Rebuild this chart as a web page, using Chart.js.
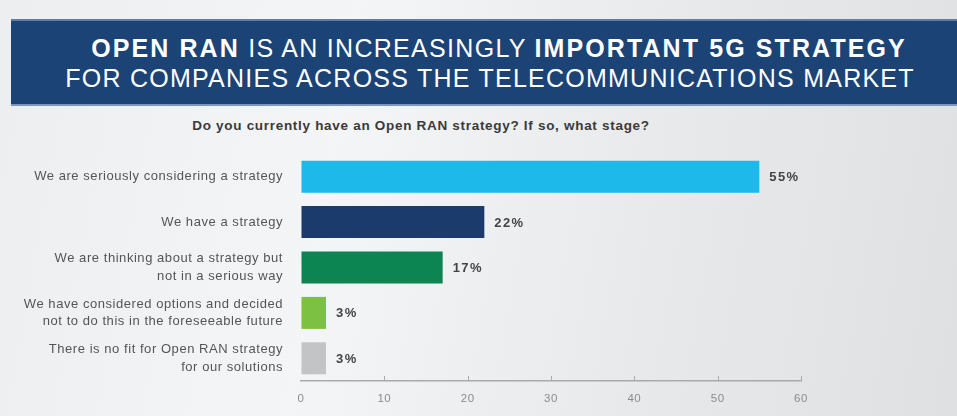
<!DOCTYPE html>
<html>
<head>
<meta charset="utf-8">
<script src="https://cdn.jsdelivr.net/npm/chart.js@4.4.1/dist/chart.umd.min.js"></script>
<style>
    html, body {
        margin: 0;
        padding: 0;
    }
    body {
        width: 957px;
        height: 416px;
        position: relative;
        overflow: hidden;
        background: linear-gradient(100deg, #eceef0 0%, #f4f5f6 35%, #e9eaec 65%, #dfe0e2 100%);
        font-family: "Liberation Sans", Arial, sans-serif;
    }
    #banner {
        position: absolute;
        left: 11px;
        top: 19px;
        width: 946px;
        height: 87px;
        background: #1c4376;
        border-top: 2px solid #5d7fa6;
        border-bottom: 2px solid #7e97b5;
        box-sizing: border-box;
        color: #fff;
        text-align: center;
    }
    #banner .l1 {
        position: absolute;
        left: 30px;
        right: 0;
        top: 12px;
        font-size: 25px;
        line-height: 30px;
        letter-spacing: 1.3px;
    }
    #banner .l1 b {
        font-weight: 900;
        letter-spacing: 2.1px;
    }
    #banner .l2 {
        position: absolute;
        left: 12px;
        right: 0;
        top: 42px;
        font-size: 25px;
        line-height: 30px;
        letter-spacing: 1.25px;
    }
    #question {
        position: absolute;
        left: 0;
        width: 842px;
        top: 118px;
        text-align: center;
        font-size: 13.5px;
        font-weight: bold;
        letter-spacing: 0.7px;
        color: #3a3a3a;
    }
    #wrap {
        position: absolute;
        left: 0;
        top: 0;
        width: 957px;
        height: 416px;
    }
</style>
</head>
<body>
<div id="banner">
    <div class="l1"><b>OPEN RAN</b> IS AN INCREASINGLY <b>IMPORTANT 5G STRATEGY</b></div>
    <div class="l2">FOR COMPANIES ACROSS THE TELECOMMUNICATIONS MARKET</div>
</div>
<div id="question">Do you currently have an Open RAN strategy? If so, what stage?</div>
<div id="wrap"><canvas id="bar-chart"></canvas></div>

<script>
// chart data
const answers = [
    ['We are seriously considering a strategy'],
    ['We have a strategy'],
    ['We are thinking about a strategy but', 'not in a serious way'],
    ['We have considered options and decided', 'not to do this in the foreseeable future'],
    ['There is no fit for Open RAN strategy', 'for our solutions']
];
const shares = [55, 22, 17, 3, 3];
const bar_colors = ['#1cb9ea', '#1b3b6c', '#0c8552', '#7cc142', '#c3c4c6'];
const x_ticks = [0, 10, 20, 30, 40, 50, 60];

// the source text is set wide, so open up the canvas text a bit
const wideText = {
    id: 'wideText',
    beforeDraw(chart) {
        chart.ctx.letterSpacing = '0.55px';
    }
};

// percent labels at the end of each bar
const valueLabels = {
    id: 'valueLabels',
    afterDatasetsDraw(chart) {
        const ctx = chart.ctx;
        const meta = chart.getDatasetMeta(0);
        ctx.save();
        ctx.letterSpacing = '1.4px';
        ctx.font = 'bold 13px "Liberation Sans", Arial, sans-serif';
        ctx.fillStyle = '#444';
        ctx.textAlign = 'left';
        ctx.textBaseline = 'middle';
        meta.data.forEach(function(bar, i) {
            ctx.fillText(shares[i] + '%', bar.x + 10, bar.y + 1);
        });
        ctx.restore();
    }
};

// small tick marks pointing up from the x axis
const upTicks = {
    id: 'upTicks',
    afterDraw(chart) {
        const ctx = chart.ctx;
        const xs = chart.scales.x;
        const bottom = chart.chartArea.bottom;
        ctx.save();
        ctx.strokeStyle = '#a9aaac';
        ctx.lineWidth = 1;
        x_ticks.forEach(function(v) {
            if (v === 0) return;
            const px = Math.round(xs.getPixelForValue(v)) + 0.5;
            ctx.beginPath();
            ctx.moveTo(px, bottom - 5);
            ctx.lineTo(px, bottom);
            ctx.stroke();
        });
        ctx.restore();
    }
};

var chrt = document.getElementById('bar-chart').getContext('2d');
var chartId = new Chart(chrt, {
    type: 'bar',
    data: {
        labels: answers,
        datasets: [{
            data: shares,
            backgroundColor: bar_colors,
            borderWidth: 0,
            barPercentage: 0.705,
            categoryPercentage: 1
        }]
    },
    options: {
        indexAxis: 'y',
        responsive: true,
        maintainAspectRatio: false,
        animation: false,
        layout: {
            padding: { top: 154, right: 156, left: 0, bottom: 0 }
        },
        plugins: {
            legend: { display: false },
            tooltip: { enabled: false }
        },
        scales: {
            x: {
                min: 0,
                max: 60,
                afterBuildTicks: function(scale) {
                    scale.ticks = x_ticks.map(function(v) { return { value: v }; });
                },
                afterFit: function(scale) {
                    scale.height = 35;
                },
                grid: {
                    display: true,
                    drawOnChartArea: false,
                    drawTicks: false
                },
                border: { display: true, color: '#a9aaac', width: 1.5 },
                ticks: {
                    padding: 11,
                    color: '#8a8b8d',
                    font: { family: '"Liberation Sans", Arial, sans-serif', size: 11.5 }
                }
            },
            y: {
                afterFit: function(scale) {
                    scale.width = 301;
                },
                grid: { display: false, drawTicks: false },
                border: { display: false },
                ticks: {
                    padding: 18,
                    color: '#555',
                    font: { family: '"Liberation Sans", Arial, sans-serif', size: 13, lineHeight: 1.38 }
                }
            }
        }
    },
    plugins: [wideText, valueLabels, upTicks]
});
</script>
</body>
</html>
